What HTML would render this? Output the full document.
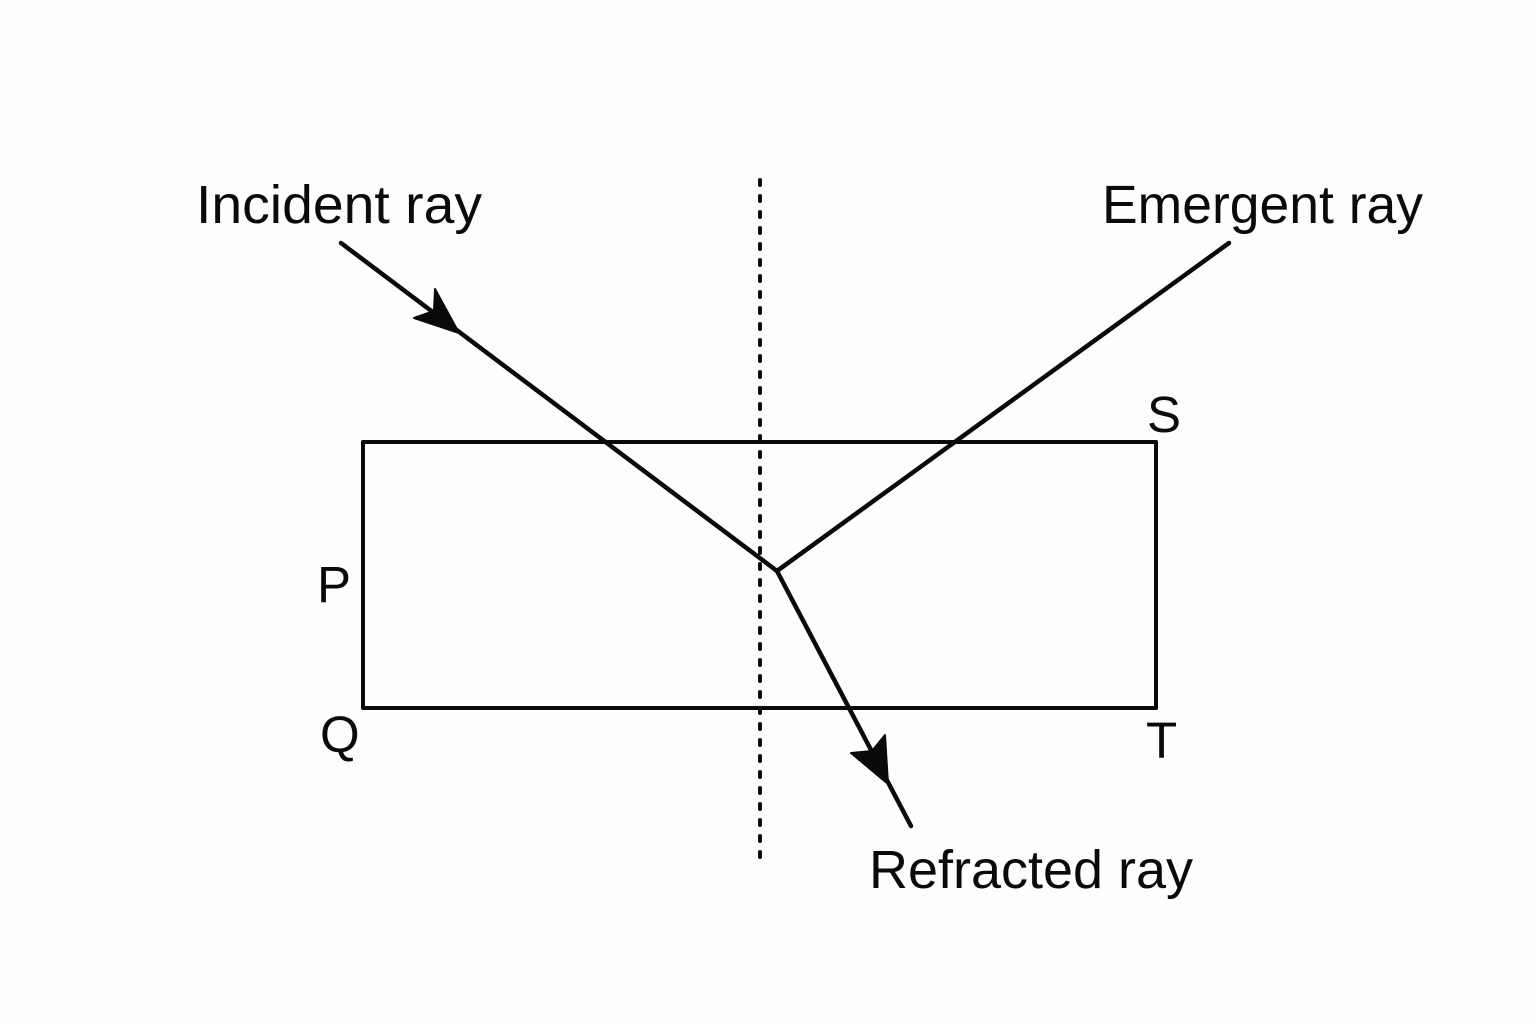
<!DOCTYPE html>
<html>
<head>
<meta charset="utf-8">
<style>
  html,body{margin:0;padding:0;background:#fdfdfd;}
  svg{display:block;}
  text{font-family:"Liberation Sans",sans-serif;fill:#0a0a0a;}
</style>
</head>
<body>
<svg width="1536" height="1024" viewBox="0 0 1536 1024" xmlns="http://www.w3.org/2000/svg">
  <rect x="0" y="0" width="1536" height="1024" fill="#fdfdfd"/>
  <!-- glass slab -->
  <rect x="363" y="442" width="793" height="266" fill="none" stroke="#0a0a0a" stroke-width="4" stroke-linejoin="round"/>
  <!-- normal (dotted) -->
  <line x1="760" y1="180" x2="760" y2="858" stroke="#0a0a0a" stroke-width="4" stroke-dasharray="5 11" stroke-linecap="round"/>
  <!-- incident ray -->
  <line x1="341" y1="243" x2="777" y2="571" stroke="#0a0a0a" stroke-width="4.5" stroke-linecap="round" stroke-linejoin="round"/>
  <!-- emergent ray -->
  <polyline points="777,571 1229,243" fill="none" stroke="#0a0a0a" stroke-width="4.5" stroke-linecap="round"/>
  <!-- refracted ray -->
  <polyline points="777,571 911,826" fill="none" stroke="#0a0a0a" stroke-width="4.5" stroke-linecap="round"/>
  <!-- arrowheads -->
  <polygon points="459,333 414,318 434,311 435,289" fill="#0a0a0a" stroke="#0a0a0a" stroke-width="2" stroke-linejoin="round"/>
  <polygon points="888,784 851,753 872,751 885,735" fill="#0a0a0a" stroke="#0a0a0a" stroke-width="2" stroke-linejoin="round"/>
  <!-- labels -->
  <text x="196" y="223" font-size="54" textLength="286" lengthAdjust="spacingAndGlyphs">Incident ray</text>
  <text x="1102" y="223" font-size="54" textLength="321" lengthAdjust="spacingAndGlyphs">Emergent ray</text>
  <text x="869" y="888" font-size="54" textLength="324" lengthAdjust="spacingAndGlyphs">Refracted ray</text>
  <text x="317" y="602" font-size="51">P</text>
  <text x="320" y="752" font-size="51">Q</text>
  <text x="1147" y="432" font-size="51">S</text>
  <text x="1146" y="758" font-size="51">T</text>
</svg>
</body>
</html>
